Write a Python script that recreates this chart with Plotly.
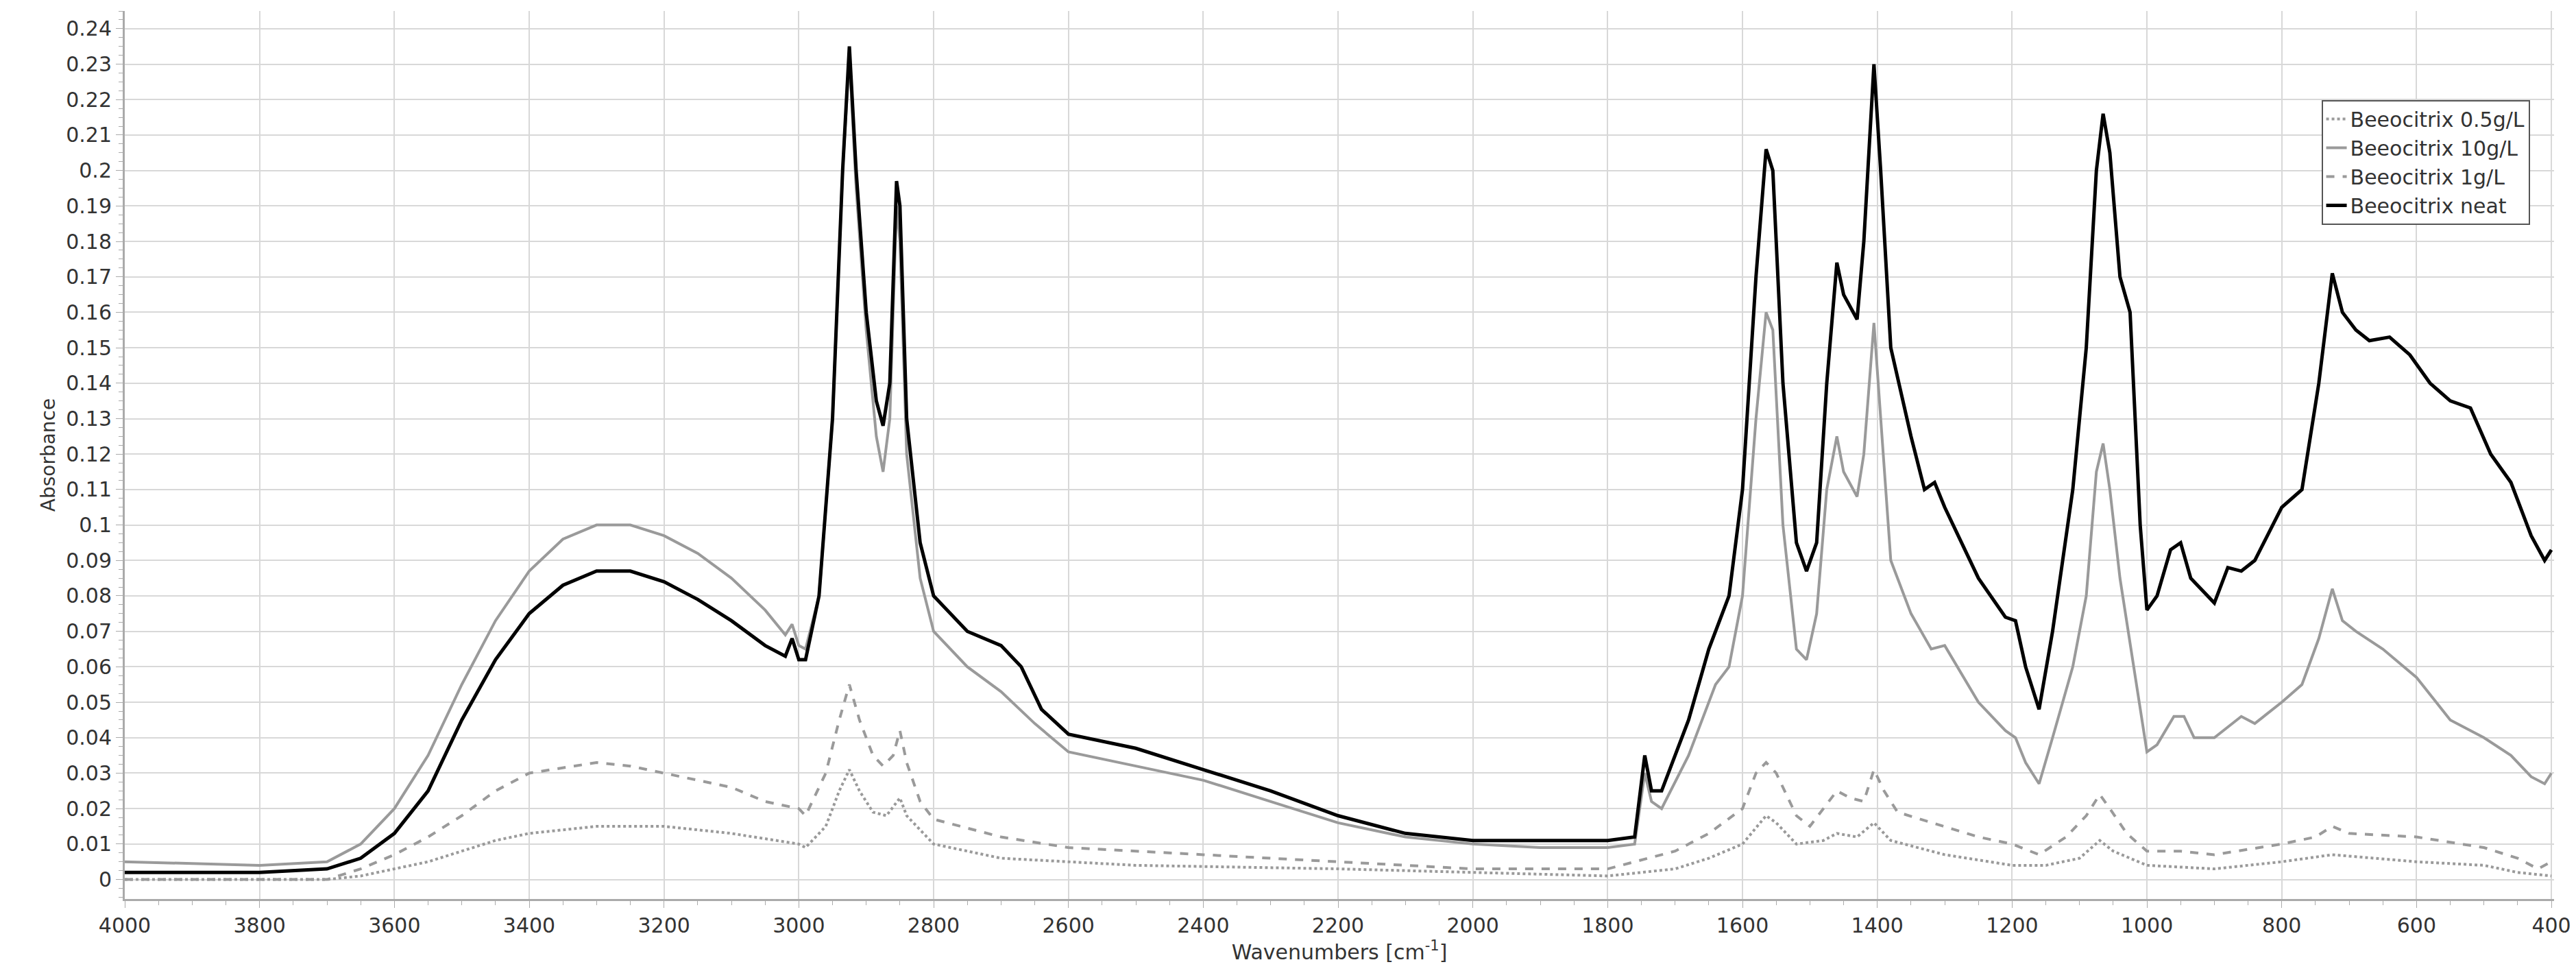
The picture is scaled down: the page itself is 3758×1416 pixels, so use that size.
import plotly.graph_objects as go

# Beeocitrix neat
neat_x = [4000, 3800, 3700, 3650, 3600, 3550, 3500, 3450, 3400, 3350, 3300, 3250, 3200, 3150, 3100, 3050, 3020, 3010, 3000, 2990, 2970, 2950, 2935, 2925, 2915, 2900, 2885, 2875, 2865, 2855, 2850, 2840, 2820, 2800, 2750, 2700, 2670, 2640, 2600, 2500, 2400, 2300, 2200, 2100, 2000, 1900, 1800, 1760, 1745, 1735, 1720, 1680, 1650, 1620, 1600, 1580, 1565, 1555, 1540, 1520, 1505, 1490, 1475, 1460, 1450, 1430, 1420, 1405, 1395, 1380, 1350, 1330, 1315, 1300, 1250, 1210, 1195, 1180, 1160, 1140, 1110, 1090, 1075, 1065, 1055, 1040, 1025, 1010, 1000, 985, 965, 950, 935, 900, 880, 860, 840, 800, 770, 745, 725, 710, 690, 670, 640, 610, 580, 550, 520, 490, 460, 430, 410, 400]
neat_y = [0.002, 0.002, 0.003, 0.006, 0.013, 0.025, 0.045, 0.062, 0.075, 0.083, 0.087, 0.087, 0.084, 0.079, 0.073, 0.066, 0.063, 0.068, 0.062, 0.062, 0.08, 0.13, 0.2, 0.235, 0.2, 0.16, 0.135, 0.128, 0.14, 0.197, 0.19, 0.13, 0.095, 0.08, 0.07, 0.066, 0.06, 0.048, 0.041, 0.037, 0.031, 0.025, 0.018, 0.013, 0.011, 0.011, 0.011, 0.012, 0.035, 0.025, 0.025, 0.045, 0.065, 0.08, 0.11, 0.17, 0.206, 0.2, 0.14, 0.095, 0.087, 0.095, 0.14, 0.174, 0.165, 0.158, 0.18, 0.23, 0.2, 0.15, 0.125, 0.11, 0.112, 0.105, 0.085, 0.074, 0.073, 0.06, 0.048, 0.07, 0.11, 0.15, 0.2, 0.216, 0.205, 0.17, 0.16, 0.1, 0.076, 0.08, 0.093, 0.095, 0.085, 0.078, 0.088, 0.087, 0.09, 0.105, 0.11, 0.14, 0.171, 0.16, 0.155, 0.152, 0.153, 0.148, 0.14, 0.135, 0.133, 0.12, 0.112, 0.097, 0.09, 0.093]

# Beeocitrix 10g/L
g10_x = [4000, 3800, 3700, 3650, 3600, 3550, 3500, 3450, 3400, 3350, 3300, 3250, 3200, 3150, 3100, 3050, 3020, 3010, 3000, 2990, 2970, 2950, 2935, 2925, 2915, 2900, 2885, 2875, 2865, 2855, 2850, 2840, 2820, 2800, 2750, 2700, 2650, 2600, 2500, 2400, 2300, 2200, 2100, 2000, 1900, 1800, 1760, 1745, 1735, 1720, 1680, 1640, 1620, 1600, 1580, 1565, 1555, 1540, 1520, 1505, 1490, 1475, 1460, 1450, 1430, 1420, 1405, 1395, 1380, 1350, 1320, 1300, 1250, 1210, 1195, 1180, 1160, 1140, 1110, 1090, 1075, 1065, 1055, 1040, 1020, 1000, 985, 960, 945, 930, 900, 880, 860, 840, 800, 770, 745, 725, 710, 690, 650, 600, 550, 500, 460, 430, 410, 400]
g10_y = [0.005, 0.004, 0.005, 0.01, 0.02, 0.035, 0.055, 0.073, 0.087, 0.096, 0.1, 0.1, 0.097, 0.092, 0.085, 0.076, 0.069, 0.072, 0.066, 0.065, 0.08, 0.13, 0.2, 0.232, 0.195, 0.155, 0.125, 0.115, 0.13, 0.19, 0.18, 0.12, 0.085, 0.07, 0.06, 0.053, 0.044, 0.036, 0.032, 0.028, 0.022, 0.016, 0.012, 0.01, 0.009, 0.009, 0.01, 0.03, 0.022, 0.02, 0.035, 0.055, 0.06, 0.08, 0.13, 0.16, 0.155, 0.1, 0.065, 0.062, 0.075, 0.11, 0.125, 0.115, 0.108, 0.12, 0.157, 0.13, 0.09, 0.075, 0.065, 0.066, 0.05, 0.042, 0.04, 0.033, 0.027, 0.04, 0.06, 0.08, 0.115, 0.123, 0.11, 0.085, 0.06, 0.036, 0.038, 0.046, 0.046, 0.04, 0.04, 0.043, 0.046, 0.044, 0.05, 0.055, 0.068, 0.082, 0.073, 0.07, 0.065, 0.057, 0.045, 0.04, 0.035, 0.029, 0.027, 0.03]

# Beeocitrix 1g/L
g1_x = [4000, 3700, 3650, 3600, 3550, 3500, 3450, 3400, 3300, 3250, 3200, 3100, 3050, 3000, 2990, 2960, 2940, 2925, 2910, 2890, 2875, 2860, 2850, 2840, 2820, 2800, 2700, 2600, 2400, 2200, 2000, 1800, 1740, 1700, 1650, 1600, 1580, 1565, 1550, 1520, 1500, 1480, 1460, 1440, 1420, 1405, 1390, 1370, 1300, 1250, 1200, 1160, 1120, 1090, 1070, 1055, 1030, 1000, 950, 900, 800, 750, 725, 700, 600, 500, 450, 420, 400]
g1_y = [0.0, 0.0, 0.003, 0.007, 0.012, 0.018, 0.025, 0.03, 0.033, 0.032, 0.03, 0.026, 0.022, 0.02, 0.018, 0.03, 0.045, 0.055, 0.045, 0.035, 0.032, 0.035, 0.042, 0.033, 0.022, 0.017, 0.012, 0.009, 0.007, 0.005, 0.003, 0.003, 0.006, 0.008, 0.013, 0.02, 0.03, 0.033, 0.03, 0.018, 0.015, 0.02, 0.025, 0.023, 0.022, 0.031, 0.025, 0.019, 0.015, 0.012, 0.01, 0.007, 0.012, 0.018, 0.024, 0.02, 0.013, 0.008, 0.008, 0.007, 0.01, 0.012, 0.015, 0.013, 0.012, 0.009, 0.006, 0.003, 0.005]

# Beeocitrix 0.5g/L
g05_x = [4000, 3700, 3650, 3600, 3550, 3500, 3450, 3400, 3300, 3200, 3100, 3000, 2990, 2960, 2940, 2925, 2910, 2890, 2870, 2850, 2840, 2800, 2700, 2500, 2200, 2000, 1800, 1700, 1650, 1600, 1565, 1550, 1520, 1480, 1460, 1430, 1405, 1380, 1300, 1200, 1150, 1100, 1070, 1050, 1000, 900, 800, 725, 600, 500, 450, 400]
g05_y = [0.0, 0.0, 0.001, 0.003, 0.005, 0.008, 0.011, 0.013, 0.015, 0.015, 0.013, 0.01, 0.009, 0.015, 0.025, 0.031, 0.025, 0.019, 0.018, 0.023, 0.018, 0.01, 0.006, 0.004, 0.003, 0.002, 0.001, 0.003, 0.006, 0.01, 0.018, 0.016, 0.01, 0.011, 0.013, 0.012, 0.016, 0.011, 0.007, 0.004, 0.004, 0.006, 0.011, 0.008, 0.004, 0.003, 0.005, 0.007, 0.005, 0.004, 0.002, 0.001]

x_ticks = list(range(4000, 399, -200))
y_ticks = [round(i * 0.01, 2) for i in range(25)]
y_labels = ["0" if v == 0 else ("%g" % v) for v in y_ticks]

gray = "#9a9a9a"
fig = go.Figure()
fig.add_trace(go.Scatter(x=g05_x, y=g05_y, name="Beeocitrix 0.5g/L", mode="lines",
                         line=dict(color=gray, width=4, dash="dot")))
fig.add_trace(go.Scatter(x=g10_x, y=g10_y, name="Beeocitrix 10g/L", mode="lines",
                         line=dict(color=gray, width=4)))
fig.add_trace(go.Scatter(x=g1_x, y=g1_y, name="Beeocitrix 1g/L", mode="lines",
                         line=dict(color=gray, width=4, dash="dash")))
fig.add_trace(go.Scatter(x=neat_x, y=neat_y, name="Beeocitrix neat", mode="lines",
                         line=dict(color="black", width=5)))

fig.update_layout(
    width=3758, height=1416,
    margin=dict(l=174, r=40, t=8, b=113),
    plot_bgcolor="white", paper_bgcolor="white",
    font=dict(family="DejaVu Sans", size=30, color="#333"),
    legend=dict(x=0.99, y=0.9, xanchor="right", yanchor="top",
                bordercolor="#555", borderwidth=2, bgcolor="white",
                font=dict(size=30), tracegroupgap=0),
)
fig.update_xaxes(
    range=[4000, 396], tickvals=x_ticks,
    title=dict(text="Wavenumbers [cm<sup>-1</sup>]", standoff=8, font=dict(size=30)),
    showgrid=True, gridcolor="#d8d8d8", gridwidth=2,
    showline=True, linecolor="#aaa", linewidth=3,
    ticks="outside", ticklen=10, tickcolor="#aaa",
    minor=dict(dtick=50, ticks="outside", ticklen=6, tickcolor="#aaa"),
    zeroline=False,
)
fig.update_yaxes(
    range=[-0.0055, 0.245], tickvals=y_ticks, ticktext=y_labels,
    title=dict(text="Absorbance", standoff=8, font=dict(size=28)),
    showgrid=True, gridcolor="#d8d8d8", gridwidth=2,
    showline=True, linecolor="#aaa", linewidth=3,
    ticks="outside", ticklen=10, tickcolor="#aaa",
    minor=dict(dtick=0.0025, ticks="outside", ticklen=6, tickcolor="#aaa"),
    zeroline=False,
)
fig.write_html("out.html")
